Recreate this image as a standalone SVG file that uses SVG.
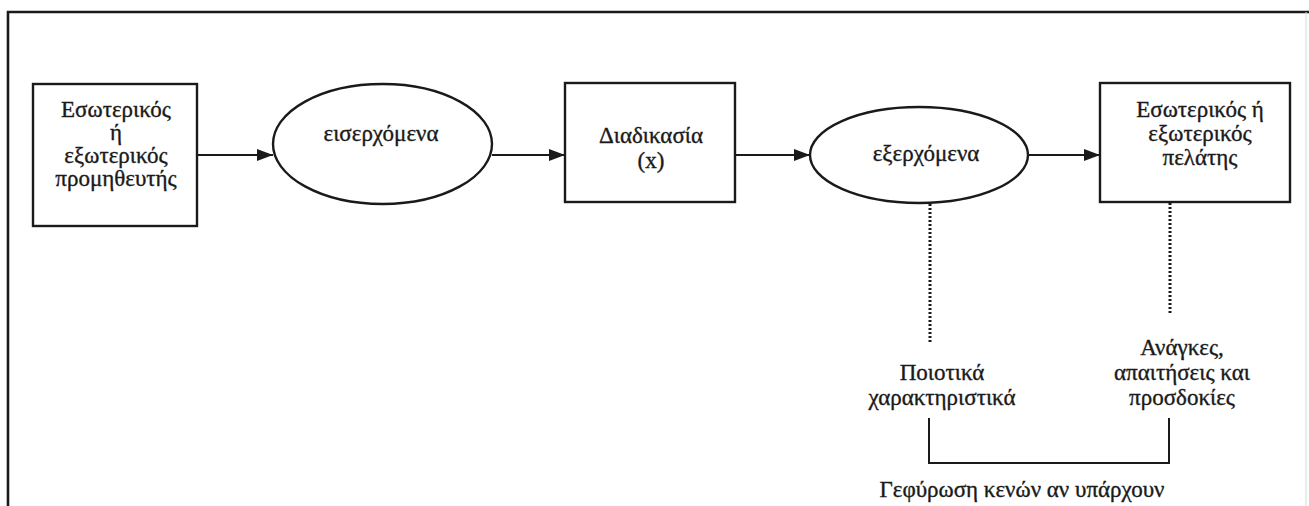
<svg xmlns="http://www.w3.org/2000/svg" width="1309" height="506" viewBox="0 0 1309 506">
  <style>
    .shape { fill: #ffffff; stroke: #1a1a1a; stroke-width: 2.4; }
    .lbl { font-family: "Liberation Serif", "Times New Roman", serif; font-size: 23px; fill: #1a1a1a; stroke: #1a1a1a; stroke-width: 0.35; text-anchor: middle; }
    .flow { stroke: #1a1a1a; stroke-width: 2; fill: none; }
    .dots { stroke: #1a1a1a; stroke-width: 3; stroke-dasharray: 2 2; fill: none; }
    .frame { stroke: #1a1a1a; stroke-width: 2.6; fill: none; }
  </style>
  <defs>
    <marker id="head" viewBox="0 0 10 10" refX="10" refY="5" markerWidth="16" markerHeight="12" markerUnits="userSpaceOnUse" orient="auto" preserveAspectRatio="none">
      <path d="M0,0 L10,5 L0,10 Z" fill="#1a1a1a"/>
    </marker>
  </defs>
  <rect width="1309" height="506" fill="#ffffff"/>

  <!-- outer frame (left and top edges; bottom runs off the page) -->
  <path class="frame" d="M8,506 V12 H1309"/>
  <line x1="1306" y1="12" x2="1306" y2="506" stroke="#d8d8d8" stroke-width="1"/>

  <g id="supplier">
    <rect class="shape" x="33" y="84" width="164" height="142"/>
    <text class="lbl" x="116" y="117">Εσωτερικός</text>
    <text class="lbl" x="116" y="140">ή</text>
    <text class="lbl" x="116" y="163">εξωτερικός</text>
    <text class="lbl" x="116" y="186">προμηθευτής</text>
  </g>

  <g id="inputs">
    <ellipse class="shape" cx="382.5" cy="144" rx="109.5" ry="60"/>
    <text class="lbl" x="381" y="141">εισερχόμενα</text>
  </g>

  <g id="process">
    <rect class="shape" x="565" y="83" width="170" height="119"/>
    <text class="lbl" x="651" y="143">Διαδικασία</text>
    <text class="lbl" x="651" y="168">(x)</text>
  </g>

  <g id="outputs">
    <ellipse class="shape" cx="919" cy="155" rx="109" ry="48"/>
    <text class="lbl" x="926" y="161">εξερχόμενα</text>
  </g>

  <g id="customer">
    <rect class="shape" x="1100" y="83" width="190" height="119"/>
    <text class="lbl" x="1200" y="117">Εσωτερικός ή</text>
    <text class="lbl" x="1200" y="141">εξωτερικός</text>
    <text class="lbl" x="1200" y="165">πελάτης</text>
  </g>

  <g id="quality">
    <text class="lbl" x="942" y="380">Ποιοτικά</text>
    <text class="lbl" x="942" y="405">χαρακτηριστικά</text>
  </g>

  <g id="needs">
    <text class="lbl" x="1182" y="355">Ανάγκες,</text>
    <text class="lbl" x="1182" y="380">απαιτήσεις και</text>
    <text class="lbl" x="1182" y="405">προσδοκίες</text>
  </g>

  <g id="gap">
    <text class="lbl" x="1022" y="497">Γεφύρωση κενών αν υπάρχουν</text>
  </g>

  <g id="connectors">
    <line class="flow" x1="197" y1="155" x2="273" y2="155" marker-end="url(#head)"/>
    <line class="flow" x1="492" y1="155" x2="565" y2="155" marker-end="url(#head)"/>
    <line class="flow" x1="735" y1="155" x2="810" y2="155" marker-end="url(#head)"/>
    <line class="flow" x1="1028" y1="155" x2="1100" y2="155" marker-end="url(#head)"/>
    <line class="dots" x1="930" y1="204" x2="930" y2="343"/>
    <line class="dots" x1="1170" y1="203" x2="1170" y2="315"/>
    <path class="flow" d="M929,418 V463 H1169 V418"/>
  </g>
</svg>
